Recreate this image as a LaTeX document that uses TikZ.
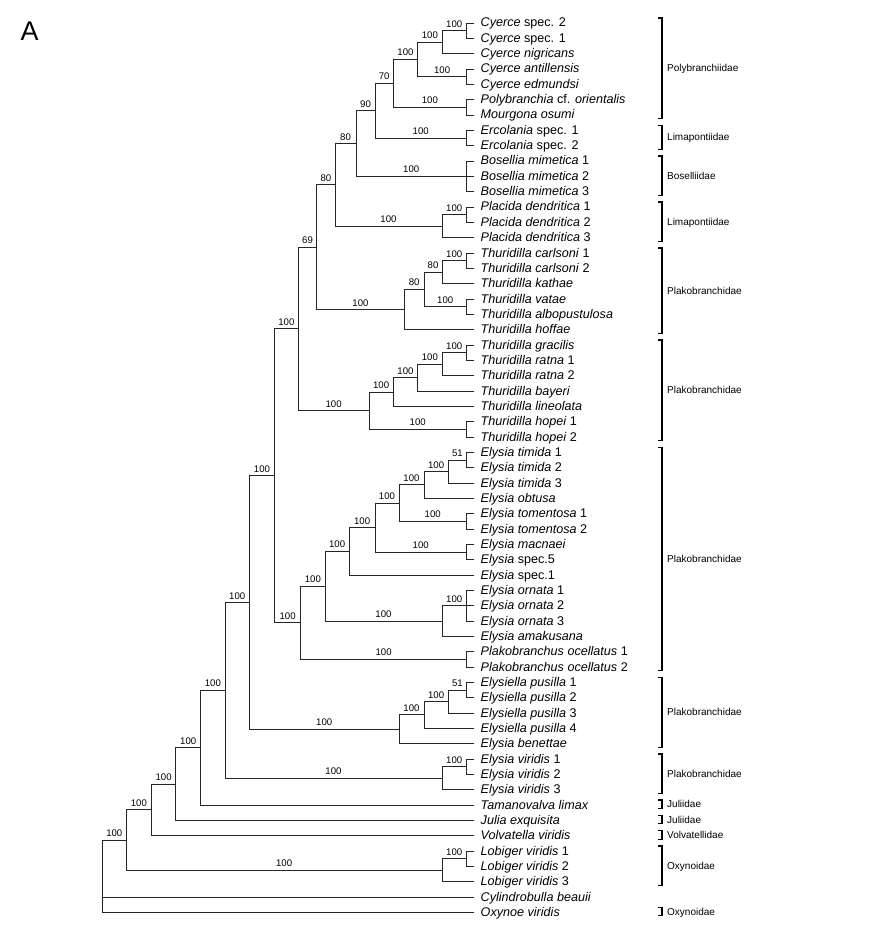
\documentclass[tikz,border=0pt]{standalone}
\usepackage{fontspec}
\setmainfont{Liberation Sans}
\begin{document}
\begin{tikzpicture}[x=1pt,y=-1pt,
  br/.style={line width=0.9pt, black!85, line cap=rect},
  sup/.style={pos=0.75, anchor=base, yshift=3.5pt, inner sep=0pt, text=black, font=\fontsize{9.6}{10}\selectfont},
  taxon/.style={anchor=base west, inner sep=0pt, font=\fontsize{12.6}{14}\selectfont},
  fam/.style={anchor=base west, inner sep=0pt, font=\fontsize{10}{12}\selectfont},
  brk/.style={line width=1.3pt, line join=miter}]
\useasboundingbox (0,0) rectangle (871,936);

\node[anchor=base west, inner sep=0pt, font=\fontsize{27}{30}\selectfont] (panel) at (20.5,41) {A};

% leaves
\foreach \i/\txt in {
 1/{\textit{Cyerce} spec. 2},
 2/{\textit{Cyerce} spec. 1},
 3/{\textit{Cyerce nigricans}},
 4/{\textit{Cyerce antillensis}},
 5/{\textit{Cyerce edmundsi}},
 6/{\textit{Polybranchia} cf. \textit{orientalis}},
 7/{\textit{Mourgona osumi}},
 8/{\textit{Ercolania} spec. 1},
 9/{\textit{Ercolania} spec. 2},
 10/{\textit{Bosellia mimetica} 1},
 11/{\textit{Bosellia mimetica} 2},
 12/{\textit{Bosellia mimetica} 3},
 13/{\textit{Placida dendritica} 1},
 14/{\textit{Placida dendritica} 2},
 15/{\textit{Placida dendritica} 3},
 16/{\textit{Thuridilla carlsoni} 1},
 17/{\textit{Thuridilla carlsoni} 2},
 18/{\textit{Thuridilla kathae}},
 19/{\textit{Thuridilla vatae}},
 20/{\textit{Thuridilla albopustulosa}},
 21/{\textit{Thuridilla hoffae}},
 22/{\textit{Thuridilla gracilis}},
 23/{\textit{Thuridilla ratna} 1},
 24/{\textit{Thuridilla ratna} 2},
 25/{\textit{Thuridilla bayeri}},
 26/{\textit{Thuridilla lineolata}},
 27/{\textit{Thuridilla hopei} 1},
 28/{\textit{Thuridilla hopei} 2},
 29/{\textit{Elysia timida} 1},
 30/{\textit{Elysia timida} 2},
 31/{\textit{Elysia timida} 3},
 32/{\textit{Elysia obtusa}},
 33/{\textit{Elysia tomentosa} 1},
 34/{\textit{Elysia tomentosa} 2},
 35/{\textit{Elysia macnaei}},
 36/{\textit{Elysia} spec.5},
 37/{\textit{Elysia} spec.1},
 38/{\textit{Elysia ornata} 1},
 39/{\textit{Elysia ornata} 2},
 40/{\textit{Elysia ornata} 3},
 41/{\textit{Elysia amakusana}},
 42/{\textit{Plakobranchus ocellatus} 1},
 43/{\textit{Plakobranchus ocellatus} 2},
 44/{\textit{Elysiella pusilla} 1},
 45/{\textit{Elysiella pusilla} 2},
 46/{\textit{Elysiella pusilla} 3},
 47/{\textit{Elysiella pusilla} 4},
 48/{\textit{Elysia benettae}},
 49/{\textit{Elysia viridis} 1},
 50/{\textit{Elysia viridis} 2},
 51/{\textit{Elysia viridis} 3},
 52/{\textit{Tamanovalva limax}},
 53/{\textit{Julia exquisita}},
 54/{\textit{Volvatella viridis}},
 55/{\textit{Lobiger viridis} 1},
 56/{\textit{Lobiger viridis} 2},
 57/{\textit{Lobiger viridis} 3},
 58/{\textit{Cylindrobulla beauii}},
 59/{\textit{Oxynoe viridis}}}{
  \pgfmathsetmacro\yy{23+(\i-1)*46/3}
  \coordinate (l\i) at (474,\yy);
  \node[taxon] (t\i) at (480.5,\yy+4) {\txt};
}

% internal nodes
\coordinate (p1) at (466.5,30.67);
\coordinate (p2) at (442,42.17);
\coordinate (p3) at (466.5,76.67);
\coordinate (p4) at (417.7,59.42);
\coordinate (p5) at (466.5,107.33);
\coordinate (p6) at (393.3,83.38);
\coordinate (e1) at (466.5,138);
\coordinate (p7) at (375,110.69);
\coordinate (b1) at (466.5,176.33);
\coordinate (p8) at (356,143.51);
\coordinate (pl1) at (466.5,214.67);
\coordinate (pl2) at (442,226.17);
\coordinate (p9) at (335,184.84);
\coordinate (t1n) at (466.5,260.67);
\coordinate (t2n) at (442,272.17);
\coordinate (t3n) at (466.5,306.67);
\coordinate (t4n) at (424,289.42);
\coordinate (t5n) at (404.3,309.54);
\coordinate (p10) at (316.7,247.19);
\coordinate (u1) at (466.5,352.67);
\coordinate (u2) at (442,364.17);
\coordinate (u3) at (417.7,377.58);
\coordinate (u4) at (393.3,391.96);
\coordinate (u5) at (466.5,429.33);
\coordinate (u6) at (369,410.65);
\coordinate (p11) at (298.3,328.92);
\coordinate (el1) at (466.5,460);
\coordinate (el2) at (448.3,471.5);
\coordinate (el3) at (424,484.92);
\coordinate (el4) at (466.5,521.33);
\coordinate (el5) at (399,503.13);
\coordinate (el6) at (466.5,552);
\coordinate (el7) at (375,527.56);
\coordinate (el8) at (349.3,551.28);
\coordinate (el9) at (466.5,605.67);
\coordinate (el10) at (442,621);
\coordinate (el11) at (325,586.14);
\coordinate (el12) at (466.5,659.33);
\coordinate (el13) at (300.7,622.74);
\coordinate (nA) at (274.5,475.83);
\coordinate (es1) at (466.5,690);
\coordinate (es2) at (448.3,701.5);
\coordinate (es3) at (424,714.92);
\coordinate (es4) at (399,729.29);
\coordinate (nB) at (249.5,602.56);
\coordinate (v1) at (466.5,766.67);
\coordinate (v2) at (442,778.17);
\coordinate (nC) at (225,690.36);
\coordinate (nD) at (200.7,747.68);
\coordinate (nE) at (175.7,784);
\coordinate (nF) at (151.5,809.84);
\coordinate (lo1) at (466.5,858.67);
\coordinate (lo2) at (442,870.17);
\coordinate (nG) at (126.3,840);
\coordinate (root) at (102.3,876.17);

% branches
\draw[br] (p1) |- (l1) (p1) |- (l2);
\draw[br] (p2) |- node[sup]{100} (p1) (p2) |- (l3);
\draw[br] (p3) |- (l4) (p3) |- (l5);
\draw[br] (p4) |- node[sup]{100} (p2) (p4) |- node[sup]{100} (p3);
\draw[br] (p5) |- (l6) (p5) |- (l7);
\draw[br] (p6) |- node[sup]{100} (p4) (p6) |- node[sup]{100} (p5);
\draw[br] (e1) |- (l8) (e1) |- (l9);
\draw[br] (p7) |- node[sup]{70} (p6) (p7) |- node[sup]{100} (e1);
\draw[br] (b1) |- (l10) (b1) |- (l11) (b1) |- (l12);
\draw[br] (p8) |- node[sup]{90} (p7) (p8) |- node[sup]{100} (b1);
\draw[br] (pl1) |- (l13) (pl1) |- (l14);
\draw[br] (pl2) |- node[sup]{100} (pl1) (pl2) |- (l15);
\draw[br] (p9) |- node[sup]{80} (p8) (p9) |- node[sup]{100} (pl2);
\draw[br] (t1n) |- (l16) (t1n) |- (l17);
\draw[br] (t2n) |- node[sup]{100} (t1n) (t2n) |- (l18);
\draw[br] (t3n) |- (l19) (t3n) |- (l20);
\draw[br] (t4n) |- node[sup]{80} (t2n) (t4n) |- node[sup]{100} (t3n);
\draw[br] (t5n) |- node[sup]{80} (t4n) (t5n) |- (l21);
\draw[br] (p10) |- node[sup]{80} (p9) (p10) |- node[sup]{100} (t5n);
\draw[br] (u1) |- (l22) (u1) |- (l23);
\draw[br] (u2) |- node[sup]{100} (u1) (u2) |- (l24);
\draw[br] (u3) |- node[sup]{100} (u2) (u3) |- (l25);
\draw[br] (u4) |- node[sup]{100} (u3) (u4) |- (l26);
\draw[br] (u5) |- (l27) (u5) |- (l28);
\draw[br] (u6) |- node[sup]{100} (u4) (u6) |- node[sup]{100} (u5);
\draw[br] (p11) |- node[sup]{69} (p10) (p11) |- node[sup]{100} (u6);
\draw[br] (el1) |- (l29) (el1) |- (l30);
\draw[br] (el2) |- node[sup]{51} (el1) (el2) |- (l31);
\draw[br] (el3) |- node[sup]{100} (el2) (el3) |- (l32);
\draw[br] (el4) |- (l33) (el4) |- (l34);
\draw[br] (el5) |- node[sup]{100} (el3) (el5) |- node[sup]{100} (el4);
\draw[br] (el6) |- (l35) (el6) |- (l36);
\draw[br] (el7) |- node[sup]{100} (el5) (el7) |- node[sup]{100} (el6);
\draw[br] (el8) |- node[sup]{100} (el7) (el8) |- (l37);
\draw[br] (el9) |- (l38) (el9) |- (l39) (el9) |- (l40);
\draw[br] (el10) |- node[sup]{100} (el9) (el10) |- (l41);
\draw[br] (el11) |- node[sup]{100} (el8) (el11) |- node[sup]{100} (el10);
\draw[br] (el12) |- (l42) (el12) |- (l43);
\draw[br] (el13) |- node[sup]{100} (el11) (el13) |- node[sup]{100} (el12);
\draw[br] (nA) |- node[sup]{100} (p11) (nA) |- node[sup]{100} (el13);
\draw[br] (es1) |- (l44) (es1) |- (l45);
\draw[br] (es2) |- node[sup]{51} (es1) (es2) |- (l46);
\draw[br] (es3) |- node[sup]{100} (es2) (es3) |- (l47);
\draw[br] (es4) |- node[sup]{100} (es3) (es4) |- (l48);
\draw[br] (nB) |- node[sup]{100} (nA) (nB) |- node[sup]{100} (es4);
\draw[br] (v1) |- (l49) (v1) |- (l50);
\draw[br] (v2) |- node[sup]{100} (v1) (v2) |- (l51);
\draw[br] (nC) |- node[sup]{100} (nB) (nC) |- node[sup]{100} (v2);
\draw[br] (nD) |- node[sup]{100} (nC) (nD) |- (l52);
\draw[br] (nE) |- node[sup]{100} (nD) (nE) |- (l53);
\draw[br] (nF) |- node[sup]{100} (nE) (nF) |- (l54);
\draw[br] (lo1) |- (l55) (lo1) |- (l56);
\draw[br] (lo2) |- node[sup]{100} (lo1) (lo2) |- (l57);
\draw[br] (nG) |- node[sup]{100} (nF) (nG) |- node[sup]{100} (lo2);
\draw[br] (root) |- node[sup]{100} (nG) (root) |- (l58) (root) |- (l59);

% family brackets
\foreach \a/\b/\nm/\k in {
 1/7/Polybranchiidae/f1,
 8/9/Limapontiidae/f2,
 10/12/Boselliidae/f3,
 13/15/Limapontiidae/f4,
 16/21/Plakobranchidae/f5,
 22/28/Plakobranchidae/f6,
 29/43/Plakobranchidae/f7,
 44/48/Plakobranchidae/f8,
 49/51/Plakobranchidae/f9,
 52/52/Juliidae/f10,
 53/53/Juliidae/f11,
 54/54/Volvatellidae/f12,
 55/57/Oxynoidae/f13,
 59/59/Oxynoidae/f14}{
  \pgfmathsetmacro\ytop{23+(\a-1)*46/3-5}
  \pgfmathsetmacro\ybot{23+(\b-1)*46/3+3.5}
  \pgfmathsetmacro\ymid{(\ytop+\ybot)/2+3.6}
  \draw[brk] (658,\ytop) -- (662,\ytop) -- (662,\ybot) -- (658,\ybot);
  \node[fam] (\k) at (667,\ymid) {\nm};
}
\end{tikzpicture}
\end{document}
